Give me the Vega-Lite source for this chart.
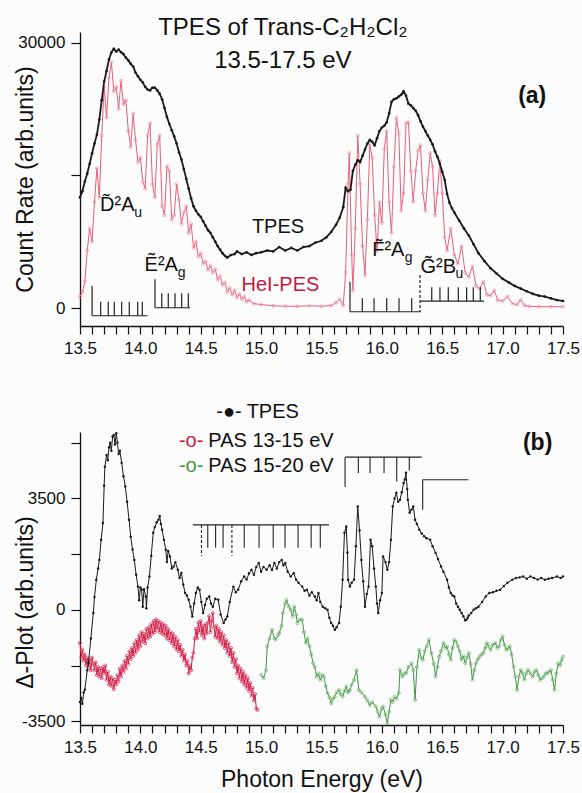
{
"$schema":"https://vega.github.io/schema/vega-lite/v6.json",
"background":"#fcfcfc",
"padding":{"left":14,"top":16,"right":4,"bottom":4},
"bounds":"flush",
"spacing":106,
"config":{"view":{"stroke":null},"axis":{"domainColor":"#111","tickColor":"#111","labelColor":"#111","titleColor":"#111","labelFont":"Liberation Sans","titleFont":"Liberation Sans","labelFontSize":17,"titleFontSize":23,"titleFontWeight":"normal","grid":false,"domainWidth":1.3,"tickWidth":1.2},"text":{"font":"Liberation Sans"}},
"datasets":{
"ta":[{"e":13.5,"v":12500},{"e":13.52,"v":13200},{"e":13.54,"v":14300},{"e":13.56,"v":15200},{"e":13.58,"v":16300},{"e":13.6,"v":17500},{"e":13.62,"v":18600},{"e":13.64,"v":19600},{"e":13.66,"v":21300},{"e":13.68,"v":23500},{"e":13.7,"v":25600},{"e":13.72,"v":26800},{"e":13.74,"v":28100},{"e":13.76,"v":28900},{"e":13.78,"v":29300},{"e":13.8,"v":29000},{"e":13.82,"v":29200},{"e":13.84,"v":28900},{"e":13.86,"v":28700},{"e":13.88,"v":28300},{"e":13.9,"v":28000},{"e":13.92,"v":27600},{"e":13.94,"v":27300},{"e":13.96,"v":26600},{"e":13.98,"v":26200},{"e":14.0,"v":25800},{"e":14.02,"v":25500},{"e":14.04,"v":25000},{"e":14.06,"v":24700},{"e":14.08,"v":24600},{"e":14.1,"v":24900},{"e":14.12,"v":24900},{"e":14.14,"v":24600},{"e":14.16,"v":24200},{"e":14.18,"v":23600},{"e":14.2,"v":22600},{"e":14.22,"v":21600},{"e":14.24,"v":20800},{"e":14.26,"v":20100},{"e":14.28,"v":19400},{"e":14.3,"v":18600},{"e":14.32,"v":17600},{"e":14.34,"v":16800},{"e":14.36,"v":15700},{"e":14.38,"v":14600},{"e":14.4,"v":13500},{"e":14.42,"v":12400},{"e":14.44,"v":11500},{"e":14.46,"v":11000},{"e":14.48,"v":10600},{"e":14.5,"v":10300},{"e":14.52,"v":9800},{"e":14.54,"v":9300},{"e":14.56,"v":8800},{"e":14.58,"v":8500},{"e":14.6,"v":8000},{"e":14.62,"v":7500},{"e":14.64,"v":7000},{"e":14.66,"v":6600},{"e":14.68,"v":6200},{"e":14.7,"v":5900},{"e":14.72,"v":5700},{"e":14.75,"v":6000},{"e":14.78,"v":6100},{"e":14.8,"v":6400},{"e":14.84,"v":6100},{"e":14.88,"v":6300},{"e":14.92,"v":6000},{"e":14.96,"v":6200},{"e":15.0,"v":6300},{"e":15.05,"v":6500},{"e":15.1,"v":6400},{"e":15.15,"v":6900},{"e":15.2,"v":6500},{"e":15.25,"v":6800},{"e":15.3,"v":6500},{"e":15.35,"v":6900},{"e":15.4,"v":7000},{"e":15.45,"v":7400},{"e":15.5,"v":7600},{"e":15.54,"v":8000},{"e":15.58,"v":8600},{"e":15.62,"v":9400},{"e":15.65,"v":10200},{"e":15.68,"v":11400},{"e":15.7,"v":13600},{"e":15.72,"v":13200},{"e":15.74,"v":13400},{"e":15.76,"v":15500},{"e":15.78,"v":16200},{"e":15.8,"v":16700},{"e":15.82,"v":16500},{"e":15.84,"v":17200},{"e":15.86,"v":17900},{"e":15.88,"v":18600},{"e":15.9,"v":19000},{"e":15.92,"v":18800},{"e":15.94,"v":18400},{"e":15.96,"v":19200},{"e":15.98,"v":20000},{"e":16.0,"v":20400},{"e":16.02,"v":20600},{"e":16.04,"v":21000},{"e":16.06,"v":22000},{"e":16.08,"v":23300},{"e":16.1,"v":23600},{"e":16.12,"v":23700},{"e":16.14,"v":23900},{"e":16.16,"v":24100},{"e":16.18,"v":24500},{"e":16.2,"v":24000},{"e":16.22,"v":23100},{"e":16.24,"v":22900},{"e":16.26,"v":22600},{"e":16.28,"v":22300},{"e":16.3,"v":21800},{"e":16.32,"v":21100},{"e":16.34,"v":20500},{"e":16.36,"v":20000},{"e":16.38,"v":19500},{"e":16.4,"v":19000},{"e":16.42,"v":18500},{"e":16.44,"v":17700},{"e":16.46,"v":17100},{"e":16.48,"v":16300},{"e":16.5,"v":15400},{"e":16.52,"v":14500},{"e":16.54,"v":12900},{"e":16.56,"v":11900},{"e":16.58,"v":11300},{"e":16.6,"v":10800},{"e":16.64,"v":9900},{"e":16.68,"v":9000},{"e":16.72,"v":8200},{"e":16.76,"v":7200},{"e":16.8,"v":6200},{"e":16.85,"v":5300},{"e":16.9,"v":4500},{"e":16.95,"v":3900},{"e":17.0,"v":3300},{"e":17.05,"v":2900},{"e":17.1,"v":2500},{"e":17.15,"v":2200},{"e":17.2,"v":1900},{"e":17.25,"v":1600},{"e":17.3,"v":1400},{"e":17.35,"v":1300},{"e":17.4,"v":1100},{"e":17.45,"v":900},{"e":17.5,"v":800}],
"ha":[{"e":13.5,"v":1300},{"e":13.52,"v":1800},{"e":13.54,"v":3000},{"e":13.56,"v":6500},{"e":13.58,"v":9000},{"e":13.6,"v":7500},{"e":13.62,"v":12000},{"e":13.64,"v":15800},{"e":13.66,"v":12500},{"e":13.68,"v":19500},{"e":13.7,"v":25000},{"e":13.72,"v":21500},{"e":13.74,"v":26000},{"e":13.76,"v":27800},{"e":13.78,"v":24500},{"e":13.8,"v":25000},{"e":13.82,"v":22500},{"e":13.84,"v":25700},{"e":13.86,"v":23000},{"e":13.88,"v":23500},{"e":13.9,"v":20000},{"e":13.92,"v":18200},{"e":13.94,"v":22000},{"e":13.96,"v":19000},{"e":13.98,"v":16500},{"e":14.0,"v":17000},{"e":14.02,"v":14300},{"e":14.04,"v":13500},{"e":14.06,"v":19500},{"e":14.08,"v":20900},{"e":14.1,"v":14000},{"e":14.12,"v":12500},{"e":14.14,"v":18500},{"e":14.16,"v":19500},{"e":14.18,"v":11500},{"e":14.2,"v":10500},{"e":14.22,"v":16000},{"e":14.24,"v":15500},{"e":14.26,"v":10000},{"e":14.28,"v":10500},{"e":14.3,"v":14000},{"e":14.32,"v":12200},{"e":14.34,"v":9500},{"e":14.36,"v":10800},{"e":14.38,"v":11500},{"e":14.4,"v":8500},{"e":14.42,"v":9500},{"e":14.44,"v":6800},{"e":14.46,"v":7500},{"e":14.48,"v":5800},{"e":14.5,"v":6200},{"e":14.52,"v":5000},{"e":14.54,"v":5300},{"e":14.56,"v":4300},{"e":14.58,"v":4800},{"e":14.6,"v":4000},{"e":14.62,"v":4400},{"e":14.64,"v":3200},{"e":14.66,"v":3600},{"e":14.68,"v":2600},{"e":14.7,"v":2900},{"e":14.72,"v":1800},{"e":14.74,"v":2300},{"e":14.76,"v":1500},{"e":14.78,"v":2000},{"e":14.8,"v":1200},{"e":14.82,"v":1600},{"e":14.84,"v":1000},{"e":14.86,"v":1300},{"e":14.88,"v":700},{"e":14.9,"v":900},{"e":14.94,"v":500},{"e":15.0,"v":400},{"e":15.1,"v":250},{"e":15.2,"v":200},{"e":15.3,"v":200},{"e":15.4,"v":250},{"e":15.5,"v":200},{"e":15.58,"v":300},{"e":15.62,"v":600},{"e":15.65,"v":1000},{"e":15.68,"v":300},{"e":15.7,"v":4000},{"e":15.72,"v":14000},{"e":15.73,"v":17500},{"e":15.75,"v":6000},{"e":15.76,"v":2000},{"e":15.78,"v":9000},{"e":15.8,"v":19500},{"e":15.82,"v":14000},{"e":15.84,"v":7000},{"e":15.86,"v":3700},{"e":15.88,"v":10000},{"e":15.9,"v":18500},{"e":15.92,"v":17000},{"e":15.94,"v":10500},{"e":15.96,"v":6500},{"e":15.98,"v":12000},{"e":16.0,"v":9600},{"e":16.02,"v":18000},{"e":16.04,"v":20000},{"e":16.06,"v":12000},{"e":16.08,"v":8500},{"e":16.1,"v":16000},{"e":16.12,"v":21500},{"e":16.14,"v":19700},{"e":16.16,"v":11000},{"e":16.18,"v":13000},{"e":16.2,"v":20900},{"e":16.22,"v":21000},{"e":16.24,"v":15500},{"e":16.26,"v":12000},{"e":16.28,"v":15500},{"e":16.3,"v":17800},{"e":16.32,"v":18400},{"e":16.34,"v":13000},{"e":16.36,"v":11000},{"e":16.38,"v":14500},{"e":16.4,"v":17500},{"e":16.42,"v":16000},{"e":16.44,"v":10500},{"e":16.46,"v":13000},{"e":16.48,"v":16700},{"e":16.5,"v":13000},{"e":16.52,"v":8000},{"e":16.54,"v":6500},{"e":16.57,"v":9000},{"e":16.6,"v":6000},{"e":16.63,"v":5000},{"e":16.66,"v":7000},{"e":16.69,"v":4000},{"e":16.72,"v":3500},{"e":16.75,"v":4700},{"e":16.78,"v":2500},{"e":16.81,"v":2200},{"e":16.84,"v":3000},{"e":16.87,"v":1500},{"e":16.9,"v":1400},{"e":16.93,"v":2000},{"e":16.96,"v":900},{"e":17.0,"v":800},{"e":17.04,"v":1300},{"e":17.08,"v":500},{"e":17.12,"v":400},{"e":17.15,"v":900},{"e":17.18,"v":300},{"e":17.22,"v":200},{"e":17.3,"v":150},{"e":17.4,"v":150},{"e":17.5,"v":150}],
"tb":[{"e":13.5,"v":-2900},{"e":13.51,"v":-2770},{"e":13.52,"v":-2950},{"e":13.53,"v":-2600},{"e":13.54,"v":-2515},{"e":13.56,"v":-1900},{"e":13.57,"v":-1670},{"e":13.59,"v":-900},{"e":13.61,"v":-100},{"e":13.62,"v":400},{"e":13.635,"v":945},{"e":13.65,"v":1300},{"e":13.66,"v":1570},{"e":13.675,"v":2200},{"e":13.69,"v":2730},{"e":13.7,"v":3900},{"e":13.706,"v":4500},{"e":13.72,"v":4870},{"e":13.73,"v":4700},{"e":13.74,"v":5100},{"e":13.75,"v":5250},{"e":13.76,"v":5000},{"e":13.77,"v":5450},{"e":13.78,"v":5500},{"e":13.79,"v":5200},{"e":13.8,"v":5550},{"e":13.81,"v":5250},{"e":13.82,"v":4900},{"e":13.83,"v":5000},{"e":13.845,"v":4620},{"e":13.86,"v":4200},{"e":13.875,"v":3880},{"e":13.89,"v":3400},{"e":13.906,"v":2830},{"e":13.92,"v":2300},{"e":13.935,"v":1900},{"e":13.95,"v":1570},{"e":13.965,"v":1100},{"e":13.98,"v":730},{"e":13.99,"v":300},{"e":14.0,"v":700},{"e":14.01,"v":630},{"e":14.02,"v":100},{"e":14.03,"v":650},{"e":14.045,"v":420},{"e":14.05,"v":50},{"e":14.06,"v":700},{"e":14.075,"v":1050},{"e":14.09,"v":1700},{"e":14.106,"v":2420},{"e":14.12,"v":2600},{"e":14.135,"v":2750},{"e":14.15,"v":2830},{"e":14.16,"v":2950},{"e":14.17,"v":2700},{"e":14.18,"v":2520},{"e":14.195,"v":2200},{"e":14.21,"v":1890},{"e":14.22,"v":1500},{"e":14.23,"v":1850},{"e":14.245,"v":1680},{"e":14.26,"v":1300},{"e":14.275,"v":1360},{"e":14.29,"v":1500},{"e":14.31,"v":1260},{"e":14.325,"v":1000},{"e":14.34,"v":1160},{"e":14.355,"v":800},{"e":14.37,"v":530},{"e":14.385,"v":450},{"e":14.4,"v":315},{"e":14.415,"v":100},{"e":14.43,"v":-210},{"e":14.445,"v":200},{"e":14.46,"v":530},{"e":14.475,"v":700},{"e":14.49,"v":630},{"e":14.505,"v":250},{"e":14.52,"v":-100},{"e":14.535,"v":150},{"e":14.55,"v":350},{"e":14.57,"v":420},{"e":14.585,"v":200},{"e":14.6,"v":100},{"e":14.62,"v":350},{"e":14.645,"v":315},{"e":14.665,"v":-150},{"e":14.69,"v":-410},{"e":14.705,"v":-300},{"e":14.72,"v":-210},{"e":14.74,"v":250},{"e":14.77,"v":730},{"e":14.79,"v":550},{"e":14.81,"v":630},{"e":14.835,"v":900},{"e":14.86,"v":1050},{"e":14.88,"v":950},{"e":14.9,"v":1150},{"e":14.92,"v":1260},{"e":14.94,"v":1100},{"e":14.96,"v":1350},{"e":14.98,"v":1470},{"e":15.0,"v":1200},{"e":15.02,"v":1350},{"e":15.045,"v":1260},{"e":15.07,"v":1400},{"e":15.09,"v":1250},{"e":15.11,"v":1470},{"e":15.13,"v":1300},{"e":15.15,"v":1500},{"e":15.17,"v":1570},{"e":15.185,"v":1400},{"e":15.2,"v":1470},{"e":15.22,"v":1200},{"e":15.245,"v":1050},{"e":15.27,"v":1150},{"e":15.29,"v":945},{"e":15.31,"v":850},{"e":15.34,"v":730},{"e":15.36,"v":600},{"e":15.38,"v":630},{"e":15.4,"v":450},{"e":15.42,"v":550},{"e":15.445,"v":420},{"e":15.46,"v":300},{"e":15.475,"v":530},{"e":15.49,"v":250},{"e":15.51,"v":100},{"e":15.53,"v":50},{"e":15.55,"v":0},{"e":15.565,"v":-250},{"e":15.58,"v":-410},{"e":15.595,"v":-500},{"e":15.61,"v":-630},{"e":15.625,"v":-550},{"e":15.645,"v":-410},{"e":15.66,"v":100},{"e":15.675,"v":945},{"e":15.69,"v":2420},{"e":15.705,"v":2620},{"e":15.715,"v":1800},{"e":15.72,"v":945},{"e":15.735,"v":730},{"e":15.75,"v":850},{"e":15.77,"v":945},{"e":15.785,"v":2000},{"e":15.8,"v":3250},{"e":15.815,"v":2500},{"e":15.83,"v":1570},{"e":15.845,"v":900},{"e":15.86,"v":100},{"e":15.875,"v":500},{"e":15.89,"v":730},{"e":15.906,"v":2200},{"e":15.92,"v":2000},{"e":15.935,"v":1300},{"e":15.95,"v":730},{"e":15.96,"v":200},{"e":15.97,"v":-100},{"e":15.985,"v":300},{"e":16.0,"v":530},{"e":16.01,"v":1680},{"e":16.03,"v":1500},{"e":16.045,"v":1260},{"e":16.06,"v":1500},{"e":16.075,"v":2200},{"e":16.09,"v":3250},{"e":16.105,"v":3500},{"e":16.12,"v":3680},{"e":16.135,"v":3400},{"e":16.15,"v":3460},{"e":16.165,"v":3700},{"e":16.18,"v":3990},{"e":16.19,"v":4100},{"e":16.2,"v":4310},{"e":16.21,"v":3800},{"e":16.215,"v":3460},{"e":16.23,"v":3050},{"e":16.245,"v":3150},{"e":16.26,"v":3250},{"e":16.275,"v":2830},{"e":16.29,"v":2700},{"e":16.31,"v":2520},{"e":16.33,"v":2400},{"e":16.35,"v":2310},{"e":16.37,"v":2250},{"e":16.4,"v":2200},{"e":16.42,"v":2000},{"e":16.445,"v":1790},{"e":16.465,"v":1600},{"e":16.49,"v":1360},{"e":16.51,"v":1200},{"e":16.54,"v":945},{"e":16.555,"v":700},{"e":16.57,"v":530},{"e":16.585,"v":450},{"e":16.6,"v":420},{"e":16.615,"v":200},{"e":16.63,"v":100},{"e":16.645,"v":0},{"e":16.66,"v":-100},{"e":16.675,"v":-200},{"e":16.69,"v":-330},{"e":16.7,"v":-315},{"e":16.71,"v":-250},{"e":16.72,"v":-180},{"e":16.74,"v":-100},{"e":16.76,"v":0},{"e":16.78,"v":50},{"e":16.8,"v":100},{"e":16.83,"v":250},{"e":16.86,"v":420},{"e":16.89,"v":530},{"e":16.92,"v":550},{"e":16.95,"v":600},{"e":16.98,"v":630},{"e":17.01,"v":750},{"e":17.04,"v":850},{"e":17.08,"v":945},{"e":17.11,"v":1000},{"e":17.14,"v":1020},{"e":17.17,"v":1050},{"e":17.2,"v":980},{"e":17.23,"v":1050},{"e":17.26,"v":1000},{"e":17.29,"v":950},{"e":17.32,"v":1000},{"e":17.35,"v":945},{"e":17.38,"v":980},{"e":17.41,"v":1000},{"e":17.45,"v":1050},{"e":17.48,"v":1000},{"e":17.5,"v":1050}],
"rb":[{"e":13.5,"v":-1040},{"e":13.51,"v":-1500},{"e":13.52,"v":-1250},{"e":13.53,"v":-1600},{"e":13.54,"v":-1400},{"e":13.55,"v":-1750},{"e":13.56,"v":-1500},{"e":13.57,"v":-1800},{"e":13.58,"v":-1550},{"e":13.59,"v":-1900},{"e":13.6,"v":-1500},{"e":13.61,"v":-1700},{"e":13.62,"v":-1900},{"e":13.63,"v":-1650},{"e":13.64,"v":-2050},{"e":13.65,"v":-1800},{"e":13.66,"v":-2100},{"e":13.67,"v":-1850},{"e":13.68,"v":-2150},{"e":13.69,"v":-1800},{"e":13.7,"v":-2000},{"e":13.71,"v":-1750},{"e":13.72,"v":-2200},{"e":13.73,"v":-1950},{"e":13.74,"v":-2350},{"e":13.75,"v":-2100},{"e":13.76,"v":-2400},{"e":13.77,"v":-2150},{"e":13.78,"v":-2500},{"e":13.79,"v":-2200},{"e":13.8,"v":-2350},{"e":13.81,"v":-2050},{"e":13.82,"v":-2250},{"e":13.83,"v":-1850},{"e":13.84,"v":-2100},{"e":13.85,"v":-1750},{"e":13.86,"v":-1950},{"e":13.87,"v":-1600},{"e":13.88,"v":-1850},{"e":13.89,"v":-1450},{"e":13.9,"v":-1700},{"e":13.91,"v":-1300},{"e":13.92,"v":-1550},{"e":13.93,"v":-1200},{"e":13.94,"v":-1450},{"e":13.95,"v":-1050},{"e":13.96,"v":-1350},{"e":13.97,"v":-950},{"e":13.98,"v":-1250},{"e":13.99,"v":-800},{"e":14.0,"v":-1150},{"e":14.01,"v":-700},{"e":14.02,"v":-1000},{"e":14.03,"v":-750},{"e":14.04,"v":-1050},{"e":14.05,"v":-600},{"e":14.06,"v":-900},{"e":14.07,"v":-550},{"e":14.08,"v":-850},{"e":14.09,"v":-450},{"e":14.1,"v":-750},{"e":14.11,"v":-350},{"e":14.12,"v":-700},{"e":14.13,"v":-300},{"e":14.14,"v":-600},{"e":14.15,"v":-350},{"e":14.16,"v":-700},{"e":14.17,"v":-400},{"e":14.18,"v":-750},{"e":14.19,"v":-450},{"e":14.2,"v":-800},{"e":14.21,"v":-500},{"e":14.22,"v":-900},{"e":14.23,"v":-600},{"e":14.24,"v":-950},{"e":14.25,"v":-700},{"e":14.26,"v":-1050},{"e":14.27,"v":-750},{"e":14.28,"v":-1150},{"e":14.29,"v":-850},{"e":14.3,"v":-1250},{"e":14.31,"v":-950},{"e":14.32,"v":-1300},{"e":14.33,"v":-1100},{"e":14.34,"v":-1450},{"e":14.35,"v":-1250},{"e":14.36,"v":-1600},{"e":14.37,"v":-1400},{"e":14.38,"v":-1750},{"e":14.39,"v":-1600},{"e":14.4,"v":-2000},{"e":14.41,"v":-1750},{"e":14.42,"v":-1900},{"e":14.43,"v":-1500},{"e":14.44,"v":-1350},{"e":14.45,"v":-900},{"e":14.46,"v":-600},{"e":14.47,"v":-900},{"e":14.48,"v":-400},{"e":14.49,"v":-700},{"e":14.5,"v":-350},{"e":14.51,"v":-800},{"e":14.52,"v":-500},{"e":14.53,"v":-900},{"e":14.54,"v":-450},{"e":14.55,"v":-750},{"e":14.56,"v":-400},{"e":14.57,"v":-200},{"e":14.58,"v":-700},{"e":14.59,"v":-350},{"e":14.6,"v":-100},{"e":14.61,"v":-550},{"e":14.62,"v":-850},{"e":14.63,"v":-500},{"e":14.64,"v":-900},{"e":14.65,"v":-600},{"e":14.66,"v":-1000},{"e":14.67,"v":-700},{"e":14.68,"v":-1100},{"e":14.69,"v":-800},{"e":14.7,"v":-1200},{"e":14.71,"v":-950},{"e":14.72,"v":-1350},{"e":14.73,"v":-1050},{"e":14.74,"v":-1450},{"e":14.75,"v":-1200},{"e":14.76,"v":-1650},{"e":14.77,"v":-1350},{"e":14.78,"v":-1800},{"e":14.79,"v":-1550},{"e":14.8,"v":-2000},{"e":14.81,"v":-1750},{"e":14.82,"v":-2150},{"e":14.83,"v":-1850},{"e":14.84,"v":-2250},{"e":14.85,"v":-1950},{"e":14.86,"v":-2350},{"e":14.87,"v":-2050},{"e":14.88,"v":-2450},{"e":14.89,"v":-2150},{"e":14.9,"v":-2550},{"e":14.91,"v":-2300},{"e":14.92,"v":-2700},{"e":14.93,"v":-2450},{"e":14.94,"v":-2850},{"e":14.95,"v":-2650},{"e":14.96,"v":-3100},{"e":14.97,"v":-3150}],
"gb":[{"e":15.0,"v":-2040},{"e":15.02,"v":-2150},{"e":15.04,"v":-1900},{"e":15.05,"v":-1150},{"e":15.07,"v":-900},{"e":15.09,"v":-630},{"e":15.11,"v":-900},{"e":15.12,"v":-940},{"e":15.14,"v":-800},{"e":15.15,"v":-730},{"e":15.17,"v":-500},{"e":15.18,"v":-100},{"e":15.2,"v":200},{"e":15.21,"v":315},{"e":15.23,"v":100},{"e":15.245,"v":0},{"e":15.26,"v":-200},{"e":15.275,"v":100},{"e":15.29,"v":-150},{"e":15.3,"v":-420},{"e":15.32,"v":-300},{"e":15.34,"v":-315},{"e":15.355,"v":-700},{"e":15.37,"v":-1040},{"e":15.385,"v":-900},{"e":15.4,"v":-1150},{"e":15.415,"v":-1400},{"e":15.43,"v":-1680},{"e":15.445,"v":-1800},{"e":15.46,"v":-2100},{"e":15.475,"v":-2000},{"e":15.49,"v":-2200},{"e":15.505,"v":-2050},{"e":15.52,"v":-2100},{"e":15.535,"v":-2400},{"e":15.55,"v":-2620},{"e":15.565,"v":-2750},{"e":15.58,"v":-2940},{"e":15.595,"v":-2800},{"e":15.61,"v":-2730},{"e":15.625,"v":-2600},{"e":15.645,"v":-2520},{"e":15.66,"v":-2650},{"e":15.675,"v":-2730},{"e":15.69,"v":-2550},{"e":15.705,"v":-2410},{"e":15.72,"v":-2600},{"e":15.735,"v":-2520},{"e":15.75,"v":-2350},{"e":15.77,"v":-2200},{"e":15.79,"v":-1890},{"e":15.81,"v":-2520},{"e":15.83,"v":-2600},{"e":15.86,"v":-2730},{"e":15.88,"v":-2850},{"e":15.9,"v":-2990},{"e":15.92,"v":-2900},{"e":15.95,"v":-3040},{"e":15.965,"v":-3200},{"e":15.98,"v":-3360},{"e":16.0,"v":-3100},{"e":16.01,"v":-3040},{"e":16.03,"v":-3300},{"e":16.045,"v":-3570},{"e":16.06,"v":-3200},{"e":16.075,"v":-2830},{"e":16.09,"v":-2900},{"e":16.105,"v":-2730},{"e":16.12,"v":-2800},{"e":16.14,"v":-2620},{"e":16.15,"v":-1890},{"e":16.17,"v":-2100},{"e":16.185,"v":-2000},{"e":16.2,"v":-1990},{"e":16.22,"v":-1800},{"e":16.245,"v":-1680},{"e":16.26,"v":-1900},{"e":16.275,"v":-2830},{"e":16.29,"v":-1800},{"e":16.31,"v":-1260},{"e":16.325,"v":-1500},{"e":16.34,"v":-1570},{"e":16.355,"v":-1300},{"e":16.37,"v":-1150},{"e":16.39,"v":-940},{"e":16.41,"v":-1360},{"e":16.43,"v":-1700},{"e":16.445,"v":-2100},{"e":16.46,"v":-1800},{"e":16.475,"v":-1470},{"e":16.49,"v":-1300},{"e":16.51,"v":-1040},{"e":16.525,"v":-1200},{"e":16.54,"v":-1150},{"e":16.555,"v":-1400},{"e":16.57,"v":-1570},{"e":16.585,"v":-1200},{"e":16.6,"v":-940},{"e":16.615,"v":-1000},{"e":16.63,"v":-1150},{"e":16.645,"v":-1300},{"e":16.66,"v":-1570},{"e":16.675,"v":-1450},{"e":16.69,"v":-1680},{"e":16.705,"v":-1500},{"e":16.72,"v":-1360},{"e":16.735,"v":-1700},{"e":16.75,"v":-2200},{"e":16.765,"v":-1900},{"e":16.78,"v":-1680},{"e":16.795,"v":-1550},{"e":16.81,"v":-1470},{"e":16.825,"v":-1400},{"e":16.84,"v":-1360},{"e":16.855,"v":-1200},{"e":16.87,"v":-1040},{"e":16.885,"v":-1150},{"e":16.9,"v":-1260},{"e":16.92,"v":-1100},{"e":16.94,"v":-1040},{"e":16.955,"v":-1200},{"e":16.97,"v":-1150},{"e":16.985,"v":-950},{"e":17.0,"v":-840},{"e":17.015,"v":-1100},{"e":17.03,"v":-1260},{"e":17.045,"v":-1200},{"e":17.06,"v":-1150},{"e":17.075,"v":-1400},{"e":17.09,"v":-1780},{"e":17.105,"v":-2100},{"e":17.12,"v":-2520},{"e":17.135,"v":-2100},{"e":17.15,"v":-1890},{"e":17.165,"v":-2000},{"e":17.18,"v":-2200},{"e":17.195,"v":-2000},{"e":17.21,"v":-1890},{"e":17.23,"v":-2000},{"e":17.25,"v":-2100},{"e":17.265,"v":-1950},{"e":17.28,"v":-1890},{"e":17.295,"v":-2050},{"e":17.31,"v":-2200},{"e":17.325,"v":-2150},{"e":17.34,"v":-2100},{"e":17.355,"v":-2000},{"e":17.37,"v":-1990},{"e":17.385,"v":-1950},{"e":17.4,"v":-1890},{"e":17.415,"v":-2200},{"e":17.43,"v":-2520},{"e":17.445,"v":-2000},{"e":17.46,"v":-1680},{"e":17.475,"v":-1750},{"e":17.49,"v":-1570},{"e":17.5,"v":-1470}],
"ca":[{"e":13.6,"e2":13.6,"v":2480,"v2":-870},{"e":13.6,"e2":14.06,"v":-870,"v2":-870},{"e":13.671,"e2":13.671,"v":-870,"v2":710},{"e":13.734,"e2":13.734,"v":-870,"v2":710},{"e":13.784,"e2":13.784,"v":-870,"v2":710},{"e":13.845,"e2":13.845,"v":-870,"v2":710},{"e":13.908,"e2":13.908,"v":-870,"v2":710},{"e":13.978,"e2":13.978,"v":-870,"v2":710},{"e":14.016,"e2":14.016,"v":-870,"v2":710},{"e":14.121,"e2":14.121,"v":3240,"v2":30},{"e":14.121,"e2":14.411,"v":30,"v2":30},{"e":14.177,"e2":14.177,"v":30,"v2":1660},{"e":14.231,"e2":14.231,"v":30,"v2":1660},{"e":14.287,"e2":14.287,"v":30,"v2":1660},{"e":14.342,"e2":14.342,"v":30,"v2":1660},{"e":14.397,"e2":14.397,"v":30,"v2":1660},{"e":15.736,"e2":15.736,"v":2970,"v2":-420},{"e":15.736,"e2":16.322,"v":-420,"v2":-420},{"e":15.838,"e2":15.838,"v":-420,"v2":1100},{"e":15.935,"e2":15.935,"v":-420,"v2":1100},{"e":16.04,"e2":16.04,"v":-420,"v2":1100},{"e":16.142,"e2":16.142,"v":-420,"v2":1100},{"e":16.247,"e2":16.247,"v":-420,"v2":1100},{"e":16.316,"e2":16.846,"v":790,"v2":790},{"e":16.413,"e2":16.413,"v":790,"v2":2340},{"e":16.481,"e2":16.481,"v":790,"v2":2340},{"e":16.55,"e2":16.55,"v":790,"v2":2340},{"e":16.633,"e2":16.633,"v":790,"v2":2340},{"e":16.702,"e2":16.702,"v":790,"v2":2340},{"e":16.757,"e2":16.757,"v":790,"v2":2340},{"e":16.815,"e2":16.815,"v":790,"v2":2340}],
"cad":[{"e":16.316,"e2":16.316,"v":3730,"v2":-420}],
"cb":[{"e":15.695,"e2":16.33,"v":4800,"v2":4800},{"e":15.695,"e2":15.695,"v":4800,"v2":3860},{"e":15.805,"e2":15.805,"v":4800,"v2":4300},{"e":15.902,"e2":15.902,"v":4800,"v2":4300},{"e":16.018,"e2":16.018,"v":4800,"v2":4300},{"e":16.123,"e2":16.123,"v":4800,"v2":4035},{"e":16.227,"e2":16.227,"v":4800,"v2":4380},{"e":16.338,"e2":16.716,"v":4090,"v2":4090},{"e":16.338,"e2":16.338,"v":4090,"v2":3145},{"e":14.435,"e2":15.562,"v":2670,"v2":2670},{"e":14.558,"e2":14.558,"v":2670,"v2":1950},{"e":14.623,"e2":14.623,"v":2670,"v2":1950},{"e":14.685,"e2":14.685,"v":2670,"v2":1950},{"e":14.86,"e2":14.86,"v":2670,"v2":1950},{"e":14.983,"e2":14.983,"v":2670,"v2":1950},{"e":15.1,"e2":15.1,"v":2670,"v2":1950},{"e":15.198,"e2":15.198,"v":2670,"v2":1950},{"e":15.306,"e2":15.306,"v":2670,"v2":1950},{"e":15.414,"e2":15.414,"v":2670,"v2":1950},{"e":15.49,"e2":15.49,"v":2670,"v2":1950}],
"cbd":[{"e":14.506,"e2":14.506,"v":2670,"v2":1700},{"e":14.758,"e2":14.758,"v":2670,"v2":1700}]
},
"vconcat":[
{"width":483,"height":294,
"encoding":{
"x":{"field":"e","type":"quantitative","scale":{"domain":[13.5,17.5],"nice":false,"zero":false},"axis":{"title":null,"values":[13.5,13.6,13.7,13.8,13.9,14.0,14.1,14.2,14.3,14.4,14.5,14.6,14.7,14.8,14.9,15.0,15.1,15.2,15.3,15.4,15.5,15.6,15.7,15.8,15.9,16.0,16.1,16.2,16.3,16.4,16.5,16.6,16.7,16.8,16.9,17.0,17.1,17.2,17.3,17.4,17.5],"labelExpr":"round(datum.value*10) % 5 == 0 ? format(datum.value, '.1f') : ''","labelOverlap":false,"labelFlush":false,"tickSize":8,"labelPadding":6}},
"y":{"field":"v","type":"quantitative","scale":{"domain":[-2030,31200],"nice":false,"zero":false},"axis":{"title":"Count Rate (arb.units)","values":[0,15000,30000],"labelExpr":"datum.value == 15000 ? '' : format(datum.value, 'd')","tickSize":9,"labelPadding":6,"titleX":-55,"titleBaseline":"middle"}}},
"layer":[
{"data":{"name":"ha"},"mark":{"type":"line","color":"#e4607a","strokeWidth":1,"point":{"filled":false,"size":9,"strokeWidth":0.7,"color":"#ee8ea0"}}},
{"data":{"name":"ta"},"mark":{"type":"line","color":"#1a1a1a","strokeWidth":1.8,"point":{"filled":true,"size":7,"color":"#1a1a1a"}}},
{"data":{"name":"ca"},"mark":{"type":"rule","color":"#222","strokeWidth":1.2},"encoding":{"x2":{"field":"e2"},"y2":{"field":"v2"}}},
{"data":{"name":"cad"},"mark":{"type":"rule","color":"#222","strokeWidth":1.2,"strokeDash":[3,2]},"encoding":{"x2":{"field":"e2"},"y2":{"field":"v2"}}},
{"data":{"values":[{"e":15.18,"v":31600,"t":"TPES of Trans-C\u2082H\u2082Cl\u2082"},{"e":15.18,"v":27900,"t":"13.5-17.5 eV"}]},"mark":{"type":"text","fontSize":24,"align":"center","baseline":"middle","color":"#111"},"encoding":{"text":{"field":"t"}}},
{"data":{"values":[{"e":17.245,"v":24000,"t":"(a)"}]},"mark":{"type":"text","fontSize":23,"fontWeight":"bold","align":"center","baseline":"middle","color":"#111"},"encoding":{"text":{"field":"t"}}},
{"data":{"values":[{"e":15.14,"v":9200,"t":"TPES"}]},"mark":{"type":"text","fontSize":20,"align":"center","baseline":"middle","color":"#111"},"encoding":{"text":{"field":"t"}}},
{"data":{"values":[{"e":15.16,"v":2600,"t":"HeI-PES"}]},"mark":{"type":"text","fontSize":20,"align":"center","baseline":"middle","color":"#c8173e"},"encoding":{"text":{"field":"t"}}},
{"data":{"values":[{"e":13.666,"v":11600,"t":"D\u0303\u00b2A"},{"e":14.035,"v":4850,"t":"E\u0303\u00b2A"},{"e":15.92,"v":6550,"t":"F\u0303\u00b2A"},{"e":16.32,"v":4600,"t":"G\u0303\u00b2B"}]},"mark":{"type":"text","fontSize":20,"align":"left","baseline":"middle","color":"#111"},"encoding":{"text":{"field":"t"}}},
{"data":{"values":[{"e":13.95,"v":10700,"t":"u"},{"e":14.31,"v":4000,"t":"g"},{"e":16.19,"v":5700,"t":"g"},{"e":16.61,"v":3800,"t":"u"}]},"mark":{"type":"text","fontSize":14,"align":"left","baseline":"middle","color":"#111"},"encoding":{"text":{"field":"t"}}}
]},
{"width":483,"height":293,
"encoding":{
"x":{"field":"e","type":"quantitative","scale":{"domain":[13.5,17.5],"nice":false,"zero":false},"axis":{"title":"Photon Energy (eV)","values":[13.5,13.6,13.7,13.8,13.9,14.0,14.1,14.2,14.3,14.4,14.5,14.6,14.7,14.8,14.9,15.0,15.1,15.2,15.3,15.4,15.5,15.6,15.7,15.8,15.9,16.0,16.1,16.2,16.3,16.4,16.5,16.6,16.7,16.8,16.9,17.0,17.1,17.2,17.3,17.4,17.5],"labelExpr":"round(datum.value*10) % 5 == 0 ? format(datum.value, '.1f') : ''","labelOverlap":false,"labelFlush":false,"tickSize":8,"labelPadding":6,"titlePadding":13}},
"y":{"field":"v","type":"quantitative","scale":{"domain":[-3620,5590],"nice":false,"zero":false},"axis":{"title":"\u0394-Plot (arb.units)","values":[-3500,-1750,0,1750,3500,5250],"labelExpr":"datum.value == 3500 ? '3500' : datum.value == 0 ? '0' : datum.value == -3500 ? '-3500' : ''","tickSize":9,"labelPadding":6,"titleX":-55,"titleY":170,"titleBaseline":"middle"}}},
"layer":[
{"data":{"name":"rb"},"mark":{"type":"line","color":"#d01840","strokeWidth":1,"point":{"filled":false,"size":9,"strokeWidth":0.8,"color":"#d8305a"}}},
{"data":{"name":"gb"},"mark":{"type":"line","color":"#3f9640","strokeWidth":1,"point":{"filled":false,"size":9,"strokeWidth":0.7,"color":"#6aae6a"}}},
{"data":{"name":"tb"},"mark":{"type":"line","color":"#1a1a1a","strokeWidth":1,"point":{"filled":true,"size":6,"color":"#1a1a1a"}}},
{"data":{"name":"cb"},"mark":{"type":"rule","color":"#222","strokeWidth":1.1},"encoding":{"x2":{"field":"e2"},"y2":{"field":"v2"}}},
{"data":{"name":"cbd"},"mark":{"type":"rule","color":"#222","strokeWidth":1.1,"strokeDash":[3,2]},"encoding":{"x2":{"field":"e2"},"y2":{"field":"v2"}}},
{"data":{"values":[{"e":17.29,"v":5240,"t":"(b)"}]},"mark":{"type":"text","fontSize":23,"fontWeight":"bold","align":"center","baseline":"middle","color":"#111"},"encoding":{"text":{"field":"t"}}},
{"data":{"values":[{"e":14.88,"v":6205,"t":"TPES"},{"e":14.563,"v":5293,"t":"PAS 13-15 eV"},{"e":14.563,"v":4507,"t":"PAS 15-20 eV"}]},"mark":{"type":"text","fontSize":20,"align":"left","baseline":"middle","color":"#111"},"encoding":{"text":{"field":"t"}}},
{"data":{"values":[{"e":14.629,"v":6205,"t":"-\u25cf-"}]},"mark":{"type":"text","fontSize":20,"align":"left","baseline":"middle","color":"#111"},"encoding":{"text":{"field":"t"}}},
{"data":{"values":[{"e":14.319,"v":5293,"t":"-o-"}]},"mark":{"type":"text","fontSize":20,"align":"left","baseline":"middle","color":"#d01840"},"encoding":{"text":{"field":"t"}}},
{"data":{"values":[{"e":14.319,"v":4507,"t":"-o-"}]},"mark":{"type":"text","fontSize":20,"align":"left","baseline":"middle","color":"#3f9640"},"encoding":{"text":{"field":"t"}}}
]}
]
}
